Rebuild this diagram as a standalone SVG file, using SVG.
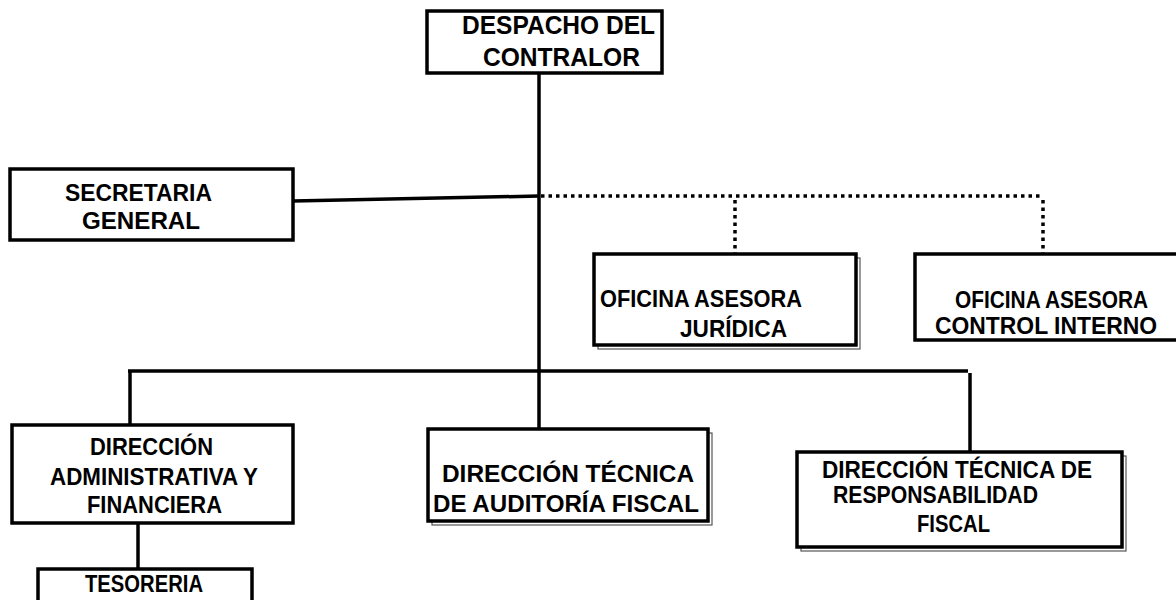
<svg xmlns="http://www.w3.org/2000/svg" width="1176" height="600" viewBox="0 0 1176 600">
<style>
.box{fill:#fff;stroke:#000;stroke-width:3.5}
.shadow{fill:#fff;stroke:#555;stroke-width:1.2}
.t{font-family:"Liberation Sans",Arial,sans-serif;font-weight:bold;font-size:23px;fill:#000}
.big{font-size:25px}
.ln{stroke:#000;stroke-width:3.5;fill:none}
.dot{stroke:#000;stroke-width:3.5;fill:none;stroke-dasharray:3.5 4}
</style>
<rect width="1176" height="600" fill="#fff"/>
<g id="connectors">
<line class="ln" x1="539" y1="73" x2="539" y2="429"/>
<line class="ln" x1="293" y1="201" x2="539" y2="196"/>
<line class="dot" x1="541" y1="196" x2="1043" y2="196"/>
<line class="dot" x1="735" y1="200" x2="735" y2="254"/>
<line class="dot" x1="1043" y1="200" x2="1043" y2="254"/>
<line class="ln" x1="128" y1="371" x2="968" y2="371"/>
<line class="ln" x1="130" y1="371" x2="130" y2="425"/>
<line class="ln" x1="970" y1="373" x2="970" y2="452"/>
<line class="ln" x1="138" y1="523" x2="138" y2="569"/>
</g>
<g id="despacho">
<rect class="box" x="427" y="11" width="235" height="62"/>
<text class="t big" x="462" y="34" textLength="193" lengthAdjust="spacingAndGlyphs">DESPACHO DEL</text>
<text class="t big" x="483" y="66" textLength="157" lengthAdjust="spacingAndGlyphs">CONTRALOR</text>
</g>
<g id="secretaria">
<rect class="box" x="10" y="169" width="283" height="71"/>
<text class="t" x="65" y="201" textLength="147" lengthAdjust="spacingAndGlyphs">SECRETARIA</text>
<text class="t" x="82" y="229" textLength="118" lengthAdjust="spacingAndGlyphs">GENERAL</text>
</g>
<g id="juridica">
<rect class="shadow" x="598" y="258" width="262" height="91"/>
<rect class="box" x="594" y="254" width="262" height="91"/>
<text class="t" x="600" y="307" textLength="202" lengthAdjust="spacingAndGlyphs">OFICINA ASESORA</text>
<text class="t" x="680" y="337" textLength="107" lengthAdjust="spacingAndGlyphs">JURÍDICA</text>
</g>
<g id="control-interno">
<rect class="box" x="915" y="254" width="275" height="86"/>
<text class="t" x="955" y="308" textLength="193" lengthAdjust="spacingAndGlyphs">OFICINA ASESORA</text>
<text class="t" x="935" y="334" textLength="222" lengthAdjust="spacingAndGlyphs">CONTROL INTERNO</text>
</g>
<g id="dir-administrativa">
<rect class="box" x="12" y="425" width="281" height="98"/>
<text class="t" x="90" y="455" textLength="123" lengthAdjust="spacingAndGlyphs">DIRECCIÓN</text>
<text class="t" x="50" y="485" textLength="208" lengthAdjust="spacingAndGlyphs">ADMINISTRATIVA Y</text>
<text class="t" x="87" y="513" textLength="135" lengthAdjust="spacingAndGlyphs">FINANCIERA</text>
</g>
<g id="tesoreria">
<rect class="box" x="38" y="569" width="214" height="40"/>
<text class="t" x="85" y="592" textLength="118" lengthAdjust="spacingAndGlyphs">TESORERIA</text>
</g>
<g id="dir-auditoria">
<rect class="shadow" x="432" y="433" width="280" height="92"/>
<rect class="box" x="428" y="429" width="280" height="92"/>
<text class="t" x="442" y="482" textLength="252" lengthAdjust="spacingAndGlyphs">DIRECCIÓN TÉCNICA</text>
<text class="t" x="433" y="512" textLength="266" lengthAdjust="spacingAndGlyphs">DE AUDITORÍA FISCAL</text>
</g>
<g id="dir-responsabilidad">
<rect class="shadow" x="801" y="456" width="325" height="95"/>
<rect class="box" x="797" y="452" width="325" height="95"/>
<text class="t" x="822" y="478" textLength="270" lengthAdjust="spacingAndGlyphs">DIRECCIÓN TÉCNICA DE</text>
<text class="t" x="833" y="503" textLength="205" lengthAdjust="spacingAndGlyphs">RESPONSABILIDAD</text>
<text class="t" x="917" y="532" textLength="73" lengthAdjust="spacingAndGlyphs">FISCAL</text>
</g>
</svg>
